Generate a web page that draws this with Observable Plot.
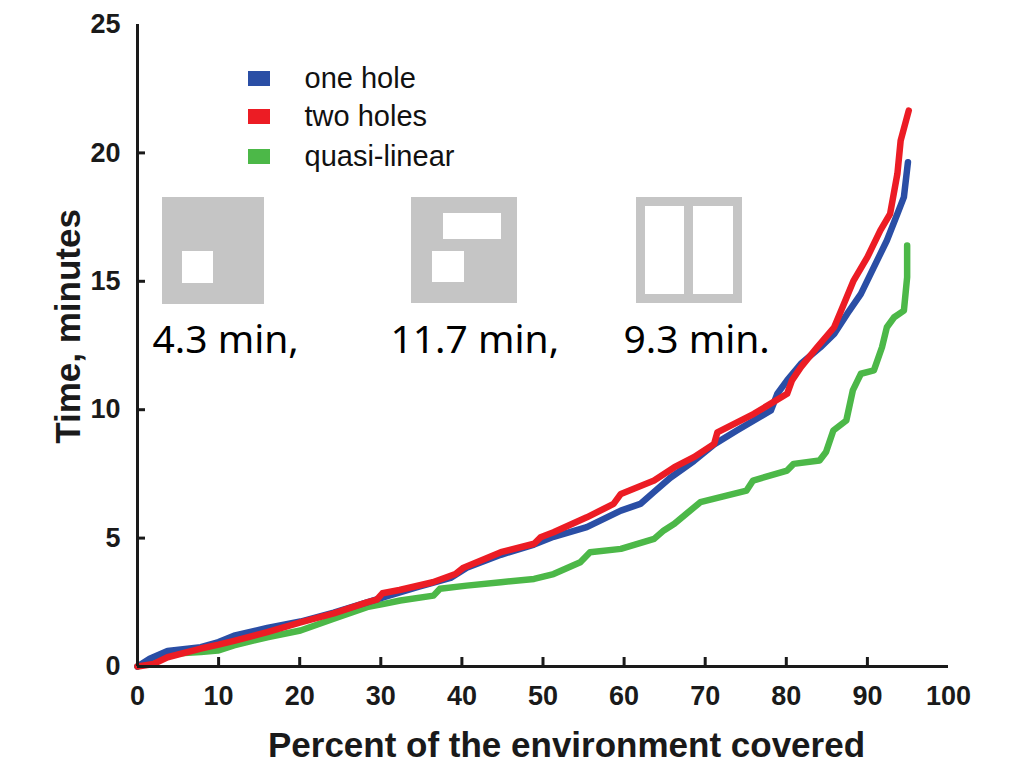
<!DOCTYPE html>
<html>
<head>
<meta charset="utf-8">
<script src="https://cdn.jsdelivr.net/npm/d3@7"></script>
<script src="https://cdn.jsdelivr.net/npm/@observablehq/plot@0.6"></script>
<style>
  html, body { margin: 0; padding: 0; background: #fff; }
  #chart { width: 1024px; height: 768px; }
</style>
</head>
<body>
<div id="chart"></div>
<script>
// ---- data ----
const seriesNames = ["one hole", "two holes", "quasi-linear"];
const seriesColors = ["#2a4ea5", "#ec1c24", "#4cb848"];

const oneHoleX = [0, 1.5, 3.7, 7.8, 10, 11.9, 16.0, 20.1, 24.2, 28.3, 30.4, 34.5, 38.6, 40.6, 44.8, 48.9, 51.3, 55.4, 59.6, 62.0, 63.7, 65.7, 68.6, 71.1, 73.9, 78.1, 78.9, 80.1, 81.8, 84.2, 85.9, 87.5, 89.2, 90.8, 92.4, 93.7, 94.5, 95.0];
const oneHoleY = [0, 0.3, 0.6, 0.75, 0.95, 1.2, 1.5, 1.75, 2.1, 2.5, 2.7, 3.09, 3.45, 3.85, 4.35, 4.75, 5.05, 5.43, 6.07, 6.33, 6.8, 7.35, 8.0, 8.65, 9.19, 9.97, 10.62, 11.14, 11.79, 12.43, 12.95, 13.73, 14.51, 15.55, 16.59, 17.63, 18.28, 19.64];

const twoHolesX = [0, 2, 3.7, 7.8, 10, 11.9, 16.0, 20.1, 24.2, 28.3, 29.5, 30.2, 32.3, 36.4, 39.2, 40.2, 44.8, 48.9, 49.7, 51.3, 55.4, 58.7, 59.6, 63.7, 66.2, 68.6, 71.1, 71.5, 76.0, 80.1, 80.7, 81.8, 83.8, 85.9, 87.1, 88.3, 90.0, 91.6, 92.8, 93.7, 94.1, 95.1];
const twoHolesY = [0, 0.1, 0.36, 0.7, 0.85, 1.0, 1.34, 1.72, 2.07, 2.5, 2.6, 2.85, 2.98, 3.28, 3.6, 3.85, 4.45, 4.78, 5.03, 5.23, 5.81, 6.33, 6.72, 7.24, 7.76, 8.15, 8.67, 9.12, 9.84, 10.62, 11.14, 11.66, 12.43, 13.21, 14.12, 15.03, 15.94, 16.98, 17.63, 19.19, 20.48, 21.65];

const quasiX = [0, 2, 3.7, 7.8, 9.9, 11.9, 16.0, 20.1, 24.2, 28.3, 30.4, 32.4, 36.5, 37.3, 40.6, 44.8, 48.9, 51.3, 54.6, 55.8, 59.6, 63.7, 64.9, 66.2, 69.4, 75.1, 75.9, 80.1, 80.9, 84.1, 84.9, 85.8, 87.4, 88.2, 88.8, 89.2, 90.8, 91.8, 92.4, 93.3, 94.5, 94.9, 94.9];
const quasiY = [0, 0.3, 0.49, 0.56, 0.62, 0.82, 1.14, 1.40, 1.86, 2.31, 2.44, 2.57, 2.76, 3.03, 3.15, 3.28, 3.41, 3.6, 4.06, 4.45, 4.58, 4.97, 5.30, 5.56, 6.40, 6.85, 7.24, 7.63, 7.89, 8.02, 8.35, 9.19, 9.58, 10.75, 11.14, 11.40, 11.53, 12.43, 13.21, 13.60, 13.86, 15.16, 16.39];

const xTickLabels = [0, 10, 20, 30, 40, 50, 60, 70, 80, 90, 100];
const yTickLabels = [0, 5, 10, 15, 20, 25];
const xTickMarks = [10, 20, 30, 40, 50, 60, 70, 80, 90];
const yTickMarks = [5, 10, 15, 20];
const timeLabels = ["4.3 min,", "11.7 min,", "9.3 min."];
const xTitle = "Percent of the environment covered";
const yTitle = "Time, minutes";

// ---- build table ----
const rows = [];
[[oneHoleX, oneHoleY], [twoHolesX, twoHolesY], [quasiX, quasiY]].forEach(([xs, ys], i) => {
  xs.forEach((x, j) => rows.push({series: seriesNames[i], x, y: ys[j]}));
});

// ---- layout ----
const W = 1024, H = 768, ML = 137, MR = 76, MT = 24, MB = 102;
const XMAX = 100, YMAX = 25;
const xPx = p => (p - ML) / (W - ML - MR) * XMAX;
const yPx = p => (H - MB - p) / (H - MB - MT) * YMAX;
const FONT = "'Liberation Sans', Arial, Helvetica, sans-serif";
const AX = "#1a1a1a";
const GRAY = "#c5c5c5";

// icons (pixel boxes: x1,x2,y1,y2) and white holes
const iconBoxes = [
  {x1: 162, x2: 264, y1: 197, y2: 304},
  {x1: 411, x2: 517, y1: 197, y2: 303},
  {x1: 636, x2: 742, y1: 197, y2: 303}
];
const iconHoles = [
  {x1: 182, x2: 213, y1: 251, y2: 283},
  {x1: 443, x2: 501, y1: 213, y2: 239},
  {x1: 432, x2: 464, y1: 251, y2: 282},
  {x1: 645, x2: 684, y1: 206, y2: 294},
  {x1: 693, x2: 733, y1: 206, y2: 294}
];
const toData = b => ({x1: xPx(b.x1), x2: xPx(b.x2), y1: yPx(b.y2), y2: yPx(b.y1)});
const timeLabelPos = [152, 390, 623];
const legendRowY = [78.5, 116.5, 156.5];

const drawOrder = ["quasi-linear", "one hole", "two holes"];

const plot = Plot.plot({
  width: W,
  height: H,
  marginLeft: ML,
  marginRight: MR,
  marginTop: MT,
  marginBottom: MB,
  style: {fontFamily: FONT, background: "#fff", overflow: "visible"},
  x: {domain: [0, XMAX], axis: null},
  y: {domain: [0, YMAX], axis: null},
  color: {domain: seriesNames, range: seriesColors},
  marks: [
    // icons
    Plot.rect(iconBoxes.map(toData), {x1: "x1", x2: "x2", y1: "y1", y2: "y2", fill: GRAY}),
    Plot.rect(iconHoles.map(toData), {x1: "x1", x2: "x2", y1: "y1", y2: "y2", fill: "#fff"}),
    Plot.text(timeLabels, {
      x: (d, i) => xPx(timeLabelPos[i]), y: yPx(340.5), text: d => d,
      textAnchor: "start", lineAnchor: "middle",
      fontFamily: "'Noto Sans', 'Open Sans', sans-serif", fontSize: 39, fill: "#000"
    }),
    // legend
    Plot.rect(seriesNames, {
      x1: xPx(248), x2: xPx(270),
      y1: (d, i) => yPx(legendRowY[i] + 7.5), y2: (d, i) => yPx(legendRowY[i] - 7.5),
      fill: d => d
    }),
    Plot.text(seriesNames, {
      x: xPx(304), y: (d, i) => yPx(legendRowY[i] - 0.5), text: d => d,
      textAnchor: "start", lineAnchor: "middle", fontSize: 29, fill: "#111"
    }),
    // lines
    ...drawOrder.map(name => Plot.line(rows.filter(r => r.series === name), {
      x: "x", y: "y", stroke: "series", strokeWidth: 6.5,
      strokeLinejoin: "round", strokeLinecap: "round"
    })),
    // axes lines
    Plot.ruleY([0], {x1: 0, x2: XMAX, stroke: AX, strokeWidth: 3}),
    Plot.ruleX([0], {y1: 0, y2: YMAX, stroke: AX, strokeWidth: 3}),
    // tick marks (inward)
    Plot.ruleX(xTickMarks, {x: d => d, y1: 0, y2: 9 / (H - MB - MT) * YMAX, stroke: AX, strokeWidth: 3}),
    Plot.ruleY(yTickMarks, {y: d => d, x1: 0, x2: 8 / (W - ML - MR) * XMAX, stroke: AX, strokeWidth: 3}),
    // tick labels
    Plot.text(xTickLabels, {
      x: d => d, y: 0, dy: 30, text: d => String(d),
      fontSize: 27, fontWeight: "bold", fill: AX, lineAnchor: "middle"
    }),
    Plot.text(yTickLabels, {
      x: 0, y: d => d, dx: -17, text: d => String(d),
      fontSize: 27, fontWeight: "bold", fill: AX, textAnchor: "end", lineAnchor: "middle"
    }),
    // titles
    Plot.text([xTitle], {
      x: xPx(566), y: yPx(745), text: d => d,
      fontSize: 35, fontWeight: "bold", fill: AX, lineAnchor: "middle"
    }),
    Plot.text([yTitle], {
      x: xPx(68), y: yPx(326), text: d => d, rotate: -90,
      fontSize: 35, fontWeight: "bold", fill: AX, lineAnchor: "middle"
    })
  ]
});

document.getElementById("chart").appendChild(plot);
</script>
</body>
</html>
